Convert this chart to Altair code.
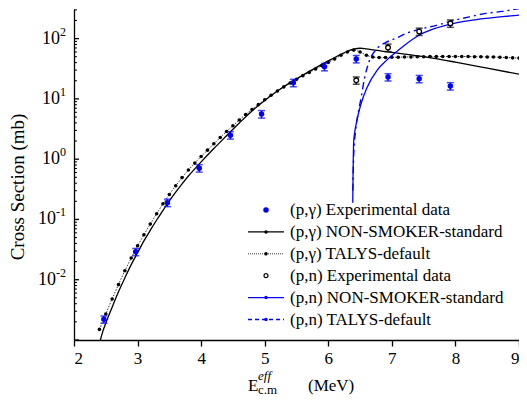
import altair as alt
import pandas as pd

FONT = "Liberation Serif"
BLUE = "#0000ff"

# ---------------- data ----------------
# (p,gamma) experimental
pg_exp_E = [2.47, 2.97, 3.47, 3.97, 4.46, 4.95, 5.45, 5.94, 6.44, 6.94, 7.43, 7.92]
pg_exp_v = [0.0022, 0.029, 0.19, 0.71, 2.5, 5.6, 18.5, 34, 46, 23, 21.5, 16.3]
pg_exp_err = [0.0003, 0.004, 0.027, 0.1, 0.35, 0.8, 2.6, 4.8, 6.5, 3.2, 3.0, 2.3]

# (p,n) experimental
pn_exp_E = [6.44, 6.94, 7.43, 7.92]
pn_exp_v = [20.3, 71, 131, 179]
pn_exp_err = [2.8, 10, 18, 25]

# (p,gamma) NON-SMOKER standard
ns_pg_E = [2.40, 2.45, 2.5, 2.6, 2.7, 2.8, 2.9, 3.0, 3.1, 3.2, 3.3, 3.4, 3.5, 3.6, 3.7,
           3.8, 3.9, 4.0, 4.2, 4.4, 4.6, 4.8, 5.0, 5.2, 5.4, 5.6, 5.8, 6.0, 6.2, 6.3,
           6.4, 6.5, 6.6, 6.8, 7.0, 7.5, 8.0, 8.5, 9.0]
ns_pg_v = [0.00087, 0.00135, 0.0019, 0.0035, 0.0063, 0.0107, 0.0178, 0.028, 0.044,
           0.066, 0.098, 0.141, 0.204, 0.285, 0.39, 0.525, 0.69, 0.90, 1.50, 2.45,
           3.98, 6.3, 9.4, 13.5, 18.6, 24.8, 32.7, 42.7, 55, 61.7, 66.8, 69.2, 67.6,
           63.1, 58.9, 50.1, 40.7, 32.4, 25.7]

# (p,gamma) TALYS default (one calculated point every 0.1 MeV, 2.4 ... 9.0)
ty_pg_E = [round(2.4 + 0.1 * i, 1) for i in range(67)]
ty_pg_v = [0.0015, 0.0027, 0.0048, 0.0083, 0.0141, 0.0229, 0.0366, 0.0557, 0.084, 0.124,
           0.182, 0.26, 0.363, 0.495, 0.66, 0.86, 1.11, 1.41, 1.80, 2.29,
           2.88, 3.59, 4.47, 5.5, 6.68, 8.04, 9.66, 11.5, 13.5, 15.8,
           18.4, 21.1, 24.3, 27.5, 31.3, 35.5, 40.3, 46, 53, 60,
           64.5, 60, 53, 49.5, 48.5, 48.5, 49, 49, 49.5, 49.5,
           50, 50, 50.5, 50.5, 50.5, 50.5, 50.5, 50.5, 50.5, 50,
           50, 49.5, 49.5, 49, 48.5, 48, 47.5]

# (p,n) NON-SMOKER standard
ns_pn_E = [6.385, 6.39, 6.395, 6.40, 6.42, 6.45, 6.51, 6.61, 6.77, 6.92, 7.05, 7.18,
           7.44, 7.7, 7.96, 8.22, 8.48, 8.74, 9.0]
ns_pn_v = [0.19, 0.6, 1.3, 2.0, 3.0, 4.4, 8.0, 15.5, 30, 44, 58, 75,
           116, 150, 178, 199, 216, 231, 245]

# (p,n) TALYS default
ty_pn_E = [6.385, 6.40, 6.43, 6.47, 6.51, 6.57, 6.64, 6.77, 6.9, 7.05, 7.26, 7.5,
           7.7, 7.96, 8.22, 8.48, 8.74, 9.0]
ty_pn_v = [0.3, 1.2, 3.0, 5.8, 9.6, 22, 41, 69, 86, 100, 126, 148,
           166, 198, 230, 262, 283, 315]

x_ticks = [2, 3, 4, 5, 6, 7, 8, 9]
y_decades = [0.01, 0.1, 1, 10, 100]
y_exps = ["-2", "-1", "0", "1", "2"]
y_minor = [m * 10.0 ** k for k in range(-3, 3) for m in range(2, 10) if m * 10.0 ** k <= 300]

legend_labels = ["(p,\u03b3) Experimental data", "(p,\u03b3) NON-SMOKER-standard",
                 "(p,\u03b3) TALYS-default", "(p,n) Experimental data",
                 "(p,n) NON-SMOKER-standard", "(p,n) TALYS-default"]

# ---------------- chart ----------------
W, H = 445, 331
xs = alt.Scale(domain=[2, 9], nice=False, zero=False)
ys = alt.Scale(type="log", domain=[0.001, 310], nice=False)

x_axis = alt.Axis(values=x_ticks, format="d", labelFont=FONT, labelFontSize=17,
                  labelColor="black", tickSize=6, tickWidth=1.3, tickColor="black",
                  domainColor="black", domainWidth=1.3, labelPadding=4, grid=False,
                  title=None)
y_axis = alt.Axis(labels=False, ticks=False, domainColor="black", domainWidth=1.3,
                  grid=False, title=None)


def X(f):
    return alt.X(f"{f}:Q", scale=xs, axis=x_axis)


def Y(f):
    return alt.Y(f"{f}:Q", scale=ys, axis=y_axis)


def df_xy(E, v, err=None):
    d = pd.DataFrame({"E": E, "v": v})
    if err is not None:
        d["lo"] = [a - b for a, b in zip(v, err)]
        d["hi"] = [a + b for a, b in zip(v, err)]
    return d


layers = []

# theory curves
layers.append(alt.Chart(df_xy(ns_pg_E, ns_pg_v)).mark_line(
    color="black", strokeWidth=1.3, interpolate="monotone", clip=True).encode(x=X("E"), y=Y("v")))
layers.append(alt.Chart(df_xy(ty_pg_E, ty_pg_v)).mark_line(
    color="black", strokeWidth=0.8, strokeDash=[1.5, 1.5], interpolate="monotone", clip=True
).encode(x=X("E"), y=Y("v")))
layers.append(alt.Chart(df_xy(ty_pg_E, ty_pg_v)).mark_circle(
    color="black", size=13, opacity=1, clip=True).encode(x=X("E"), y=Y("v")))
layers.append(alt.Chart(df_xy(ns_pn_E, ns_pn_v)).mark_line(
    color=BLUE, strokeWidth=1.3, interpolate="monotone", clip=True).encode(x=X("E"), y=Y("v")))
layers.append(alt.Chart(df_xy(ty_pn_E, ty_pn_v)).mark_line(
    color=BLUE, strokeWidth=1.4, strokeDash=[7, 4, 2, 4], interpolate="monotone", clip=True
).encode(x=X("E"), y=Y("v")))

# experimental points with error bars
pg = df_xy(pg_exp_E, pg_exp_v, pg_exp_err)
pn = df_xy(pn_exp_E, pn_exp_v, pn_exp_err)
for d, col in [(pg, BLUE), (pn, "black")]:
    layers.append(alt.Chart(d).mark_rule(color=col, strokeWidth=1.3).encode(
        x=X("E"), y=Y("lo"), y2="hi:Q"))
    for f in ["lo", "hi"]:
        layers.append(alt.Chart(d).mark_tick(color=col, orient="horizontal", size=7,
                                             thickness=1.5).encode(x=X("E"), y=Y(f)))
layers.append(alt.Chart(pg).mark_circle(color=BLUE, size=30, opacity=1).encode(
    x=X("E"), y=Y("v")))
layers.append(alt.Chart(pn).mark_point(color="black", fill="white", filled=False,
                                       size=22, strokeWidth=1.3, opacity=1).encode(
    x=X("E"), y=Y("v")))

# y axis ticks and labels
layers.append(alt.Chart(pd.DataFrame({"v": y_minor})).mark_rule(
    color="black", strokeWidth=1).encode(y=Y("v"), x=alt.value(0), x2=alt.value(3)))
layers.append(alt.Chart(pd.DataFrame({"v": y_decades + [0.001]})).mark_rule(
    color="black", strokeWidth=1.3).encode(y=Y("v"), x=alt.value(0), x2=alt.value(5)))
for v, e in zip(y_decades, y_exps):
    w = sum(6 if c.isdigit() else 4 for c in e)
    d = pd.DataFrame({"v": [v], "b": ["10"], "e": [e]})
    layers.append(alt.Chart(d).mark_text(align="right", baseline="middle", font=FONT,
                                         fontSize=18, color="black").encode(
        y=Y("v"), x=alt.value(-8 - w), text="b:N"))
    layers.append(alt.Chart(d).mark_text(align="left", baseline="middle", font=FONT,
                                         fontSize=12, color="black", dy=-7).encode(
        y=Y("v"), x=alt.value(-8 - w), text="e:N"))

# axis titles
def label(txt, x, y, size, **kw):
    return alt.Chart(pd.DataFrame({"t": [txt]})).mark_text(
        font=FONT, fontSize=size, color="black", **kw).encode(
        text="t:N", x=alt.value(x), y=alt.value(y))

layers.append(label("Cross Section (mb)", -56, 178, 19, angle=270, align="center",
                    baseline="middle"))
layers.append(label("E", 174, 382, 17, align="left", baseline="alphabetic"))
layers.append(label("eff", 184, 371, 13, align="left", baseline="alphabetic",
                    fontStyle="italic"))
layers.append(label("c.m", 184, 385, 13, align="left", baseline="alphabetic"))
layers.append(label("(MeV)", 234, 382, 17, align="left", baseline="alphabetic"))

# legend
ly0, ldy = 201, 21.9
sym_x1, sym_x2, sym_xc, txt_x = 174, 210, 192, 216
line_styles = {1: ("black", 1.3, None), 2: ("black", 0.8, [1, 1]),
               4: (BLUE, 1.3, None), 5: (BLUE, 1.4, [4, 3])}
dot_styles = {0: (BLUE, 30, True), 1: ("black", 12, True), 2: ("black", 12, True),
              3: ("black", 16, False), 4: (BLUE, 12, True), 5: (BLUE, 12, True)}
for i, lab in enumerate(legend_labels):
    yy = ly0 + ldy * i
    layers.append(label(lab, txt_x, yy, 17, align="left", baseline="middle"))
    one = pd.DataFrame({"k": [0]})
    if i in line_styles:
        col, sw, dash = line_styles[i]
        kw = dict(color=col, strokeWidth=sw)
        if dash:
            kw["strokeDash"] = dash
        layers.append(alt.Chart(one).mark_rule(**kw).encode(
            x=alt.value(sym_x1), x2=alt.value(sym_x2), y=alt.value(yy)))
    col, sz, filled = dot_styles[i]
    if filled:
        layers.append(alt.Chart(one).mark_circle(color=col, size=sz, opacity=1).encode(
            x=alt.value(sym_xc), y=alt.value(yy)))
    else:
        layers.append(alt.Chart(one).mark_point(color=col, size=sz, strokeWidth=1.2,
                                                opacity=1).encode(
            x=alt.value(sym_xc), y=alt.value(yy)))

chart = alt.layer(*layers).properties(
    width=W, height=H,
    padding={"left": 66, "top": 1, "right": 0, "bottom": 56},
    autosize=alt.AutoSizeParams(type="none"),
    background="white",
).configure_view(strokeWidth=0)

chart.save("out.html", embed_options={"renderer": "svg", "actions": False})
